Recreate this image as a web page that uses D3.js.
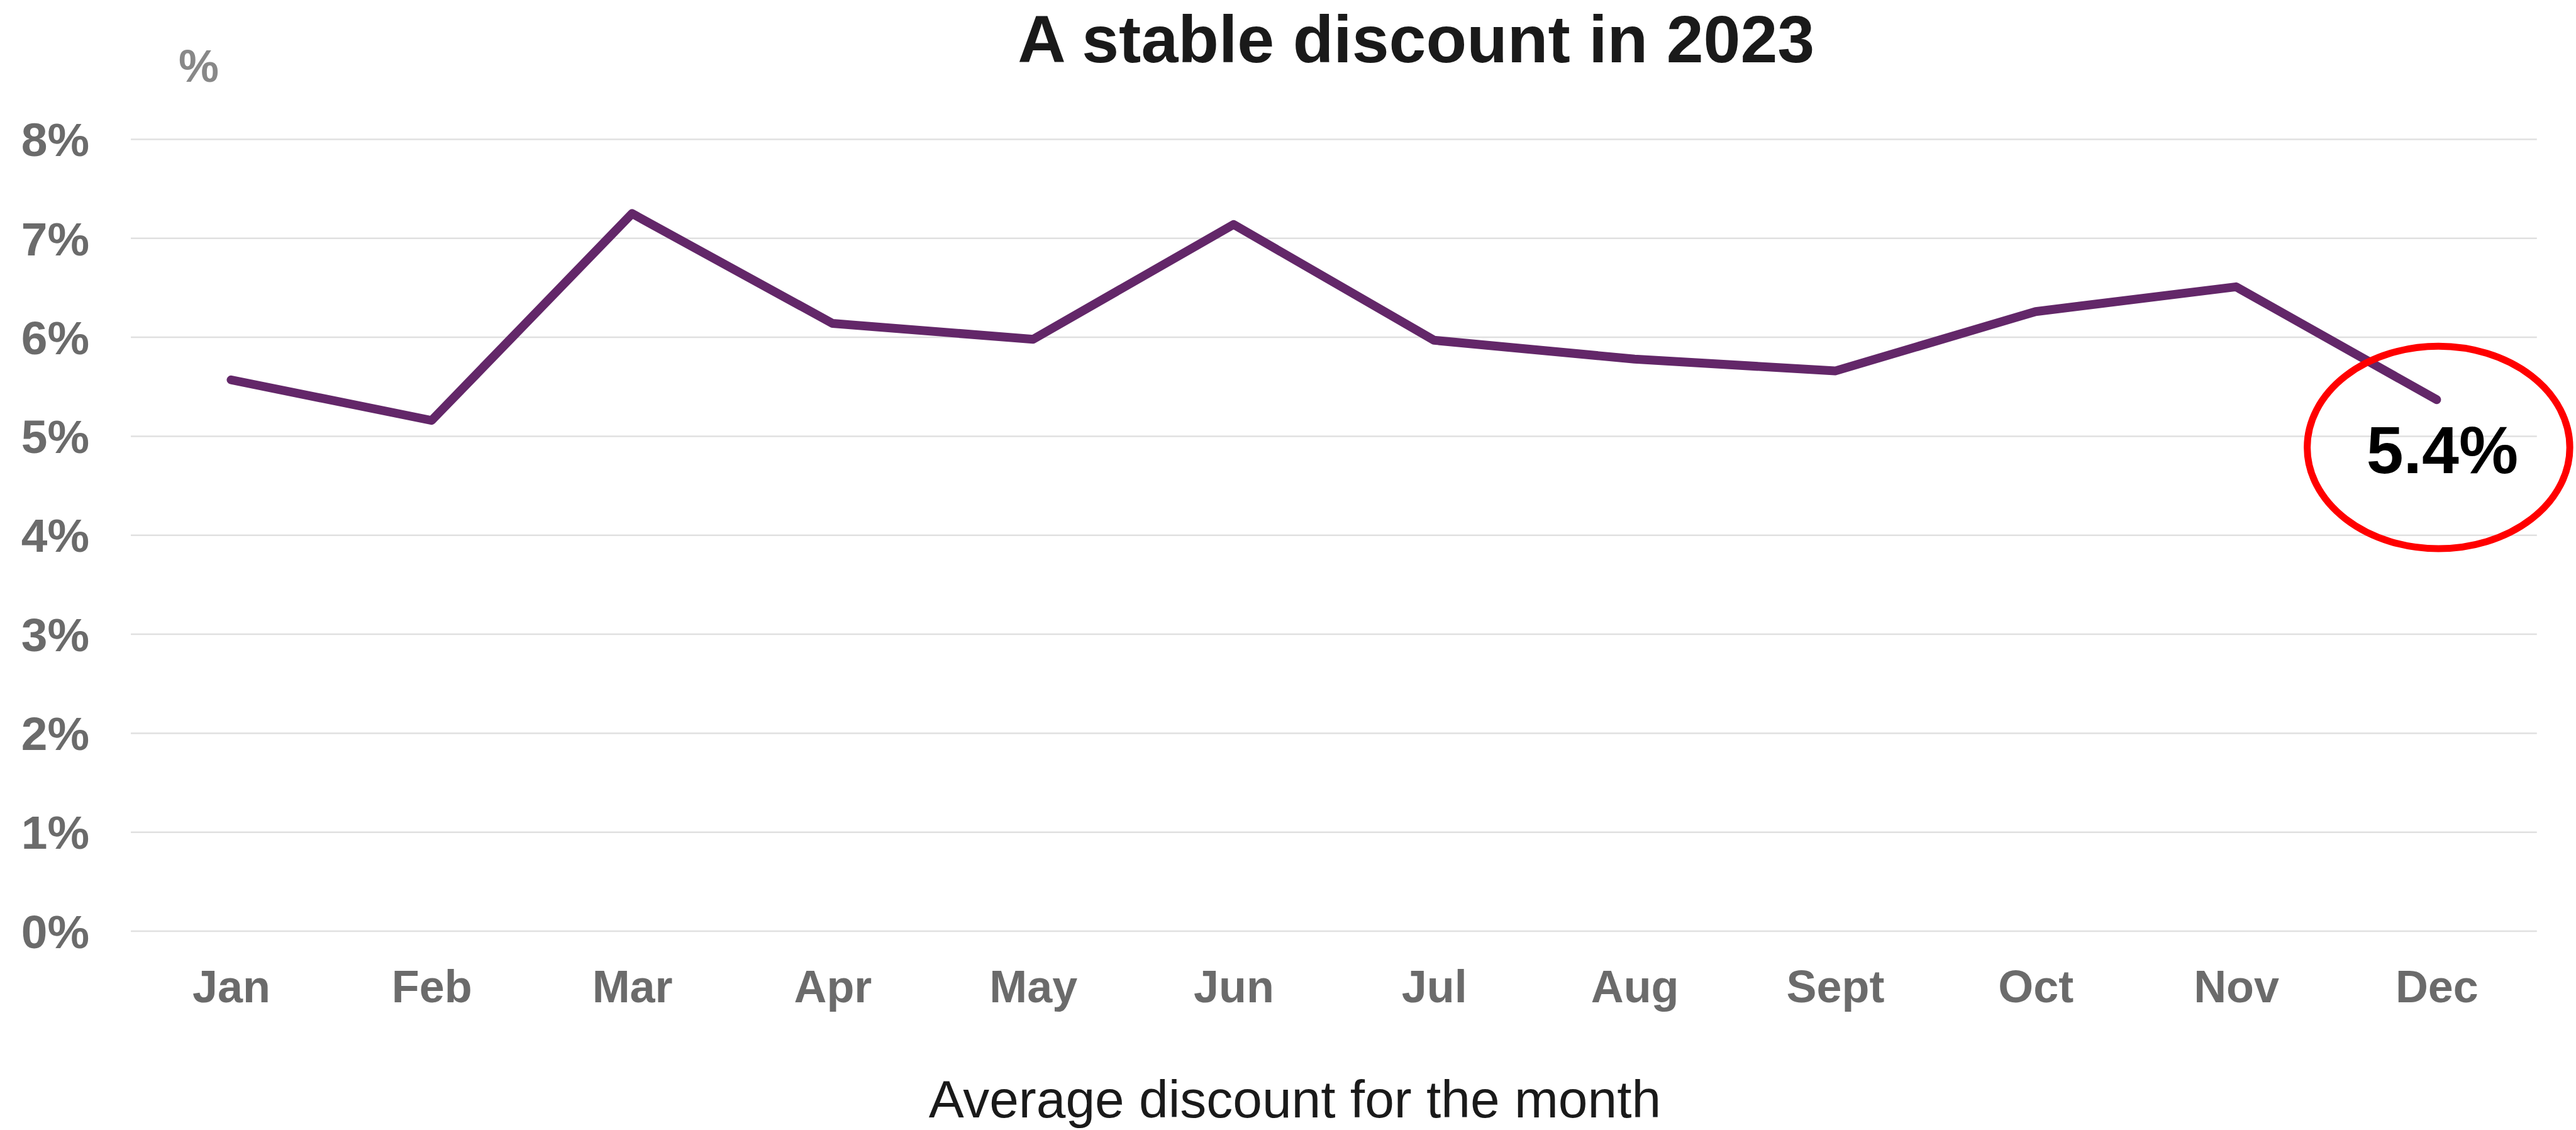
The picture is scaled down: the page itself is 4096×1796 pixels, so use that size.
<!DOCTYPE html>
<html>
<head>
<meta charset="utf-8">
<script src="https://cdn.jsdelivr.net/npm/d3@7"></script>
<style>
  html, body { margin: 0; padding: 0; background: #ffffff; }
  svg { display: block; font-family: "Liberation Sans", Arial, sans-serif; }
</style>
</head>
<body>
<svg id="chart"></svg>
<script>
const months = ["Jan", "Feb", "Mar", "Apr", "May", "Jun", "Jul", "Aug", "Sept", "Oct", "Nov", "Dec"];
const discount = [5.57, 5.16, 7.25, 6.14, 5.98, 7.14, 5.97, 5.78, 5.66, 6.26, 6.51, 5.37];
const yTicks = [0, 1, 2, 3, 4, 5, 6, 7, 8];
const titleText = "A stable discount in 2023";
const unitText = "%";
const xTitleText = "Average discount for the month";
const calloutText = "5.4%";

class VisLine {
  constructor({ el }) {
    this.el = el;
    this.init();
  }

  init() {
    // drawn in the reference's own coordinates, viewBox scales it to the window
    this.dims = {
      width: 4100,
      height: 1798,
      left: 208,
      right: 4038,
      top: 221.7,
      bottom: 1481.7,
    };

    this.svg = d3
      .select(this.el)
      .attr("width", 4096)
      .attr("height", 1796)
      .attr("viewBox", [0, 0, this.dims.width, this.dims.height]);

    this.x = d3
      .scalePoint()
      .domain(months)
      .range([this.dims.left, this.dims.right])
      .padding(0.5);

    this.y = d3
      .scaleLinear()
      .domain([0, 8])
      .range([this.dims.bottom, this.dims.top]);

    this.gGrid = this.svg.append("g").attr("class", "grid-g");
    this.gAxisY = this.svg.append("g").attr("class", "y-axis-g");
    this.gAxisX = this.svg.append("g").attr("class", "x-axis-g");
    this.gLine = this.svg.append("g").attr("class", "line-g");
    this.gNotes = this.svg.append("g").attr("class", "notes-g");

    this.render();
  }

  render() {
    this.renderGrid();
    this.renderAxes();
    this.renderLine();
    this.renderNotes();
  }

  renderGrid() {
    this.gGrid
      .selectAll("line")
      .data(yTicks)
      .join("line")
      .attr("x1", this.dims.left)
      .attr("x2", this.dims.right)
      .attr("y1", (d) => this.y(d))
      .attr("y2", (d) => this.y(d))
      .attr("stroke", "#e0e0e0")
      .attr("stroke-width", 2.5);
  }

  renderAxes() {
    const yAxis = d3
      .axisLeft(this.y)
      .tickValues(yTicks)
      .tickFormat((d) => d + "%")
      .tickSize(0)
      .tickPadding(66);

    this.gAxisY
      .attr("transform", `translate(${this.dims.left},0)`)
      .call(yAxis)
      .call((g) => g.select(".domain").remove())
      .call((g) =>
        g
          .selectAll("text")
          .attr("fill", "#6b6b6b")
          .attr("font-size", 75)
          .attr("font-weight", "bold")
          .attr("font-family", null)
          .attr("dy", "0.35em")
      );

    const xAxis = d3.axisBottom(this.x).tickSize(0).tickPadding(0);

    this.gAxisX
      .attr("transform", `translate(0,${this.dims.bottom})`)
      .call(xAxis)
      .call((g) => g.select(".domain").remove())
      .call((g) =>
        g
          .selectAll("text")
          .attr("fill", "#6b6b6b")
          .attr("font-size", 72)
          .attr("font-weight", "bold")
          .attr("font-family", null)
          .attr("y", 113)
          .attr("dy", null)
      );
  }

  renderLine() {
    const line = d3
      .line()
      .x((d, i) => this.x(months[i]))
      .y((d) => this.y(d));

    this.gLine
      .append("path")
      .datum(discount)
      .attr("fill", "none")
      .attr("stroke", "#632769")
      .attr("stroke-width", 14)
      .attr("stroke-linejoin", "round")
      .attr("stroke-linecap", "round")
      .attr("d", line);
  }

  renderNotes() {
    this.gNotes
      .append("text")
      .attr("x", 2254)
      .attr("y", 99)
      .attr("text-anchor", "middle")
      .attr("font-size", 106)
      .attr("font-weight", "bold")
      .attr("fill", "#1a1a1a")
      .text(titleText);

    this.gNotes
      .append("text")
      .attr("x", 284)
      .attr("y", 130)
      .attr("font-size", 72)
      .attr("font-weight", "bold")
      .attr("fill", "#888888")
      .text(unitText);

    this.gNotes
      .append("text")
      .attr("x", 2061)
      .attr("y", 1778)
      .attr("text-anchor", "middle")
      .attr("font-size", 84)
      .attr("fill", "#1a1a1a")
      .text(xTitleText);

    // callout round the last value
    const last = months.length - 1;
    const cx = this.x(months[last]) + 3;
    const cy = this.y(discount[last]) + 76;

    this.gNotes
      .append("ellipse")
      .attr("cx", cx)
      .attr("cy", cy)
      .attr("rx", 209)
      .attr("ry", 161)
      .attr("fill", "none")
      .attr("stroke", "#ff0000")
      .attr("stroke-width", 11);

    this.gNotes
      .append("text")
      .attr("x", cx + 6)
      .attr("y", cy + 41)
      .attr("text-anchor", "middle")
      .attr("font-size", 106)
      .attr("font-weight", "bold")
      .attr("fill", "#000000")
      .text(calloutText);
  }
}

new VisLine({ el: document.getElementById("chart") });
</script>
</body>
</html>
